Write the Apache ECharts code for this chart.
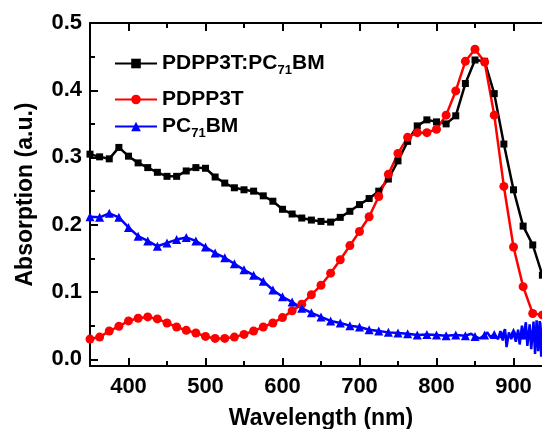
<!DOCTYPE html>
<html>
<head>
<meta charset="utf-8">
<script src="https://cdn.jsdelivr.net/npm/echarts@6/dist/echarts.min.js"></script>
<style>
  html, body { margin: 0; padding: 0; background: #fff; }
  #chart { width: 542px; height: 429px; }
</style>
</head>
<body>
<div id="chart"></div>
<script>
// wavelength grid of the markers (nm)
const wavelength = [350, 362.5, 375, 387.5, 400, 412.5, 425, 437.5, 450, 462.5, 475, 487.5,
  500, 512.5, 525, 537.5, 550, 562.5, 575, 587.5, 600, 612.5, 625, 637.5, 650, 662.5, 675, 687.5,
  700, 712.5, 725, 737.5, 750, 762.5, 775, 787.5, 800, 812.5, 825, 837.5, 850, 862.5, 875, 887.5,
  900, 912.5, 925, 937.5];

// PDPP3T:PC71BM blend
const blendAbs = [0.305, 0.301, 0.298, 0.315, 0.302, 0.292, 0.285, 0.278, 0.272, 0.272, 0.280, 0.285,
  0.284, 0.271, 0.262, 0.255, 0.252, 0.250, 0.243, 0.235, 0.223, 0.216, 0.210, 0.207, 0.205, 0.204, 0.211, 0.220,
  0.230, 0.239, 0.250, 0.268, 0.295, 0.324, 0.347, 0.356, 0.353, 0.350, 0.362, 0.410, 0.445, 0.443, 0.395, 0.320,
  0.252, 0.198, 0.170, 0.125];

// PDPP3T
const polymerAbs = [0.030, 0.033, 0.042, 0.049, 0.057, 0.061, 0.063, 0.060, 0.054, 0.048, 0.043, 0.039,
  0.034, 0.031, 0.031, 0.033, 0.037, 0.042, 0.048, 0.054, 0.062, 0.072, 0.082, 0.096, 0.110, 0.128, 0.148, 0.169,
  0.190, 0.212, 0.242, 0.275, 0.306, 0.330, 0.337, 0.337, 0.342, 0.363, 0.399, 0.443, 0.461, 0.442, 0.363, 0.257,
  0.167, 0.108, 0.068, 0.066];

// PC71BM
const pcbmAbs = [0.212, 0.211, 0.217, 0.211, 0.196, 0.183, 0.176, 0.168, 0.173, 0.178, 0.181, 0.176,
  0.167, 0.158, 0.151, 0.142, 0.133, 0.125, 0.116, 0.103, 0.093, 0.085, 0.076, 0.069, 0.063, 0.057, 0.054, 0.050,
  0.048, 0.044, 0.042, 0.040, 0.039, 0.038, 0.036, 0.037, 0.036, 0.035, 0.036, 0.035, 0.034, 0.036, 0.037, 0.038,
  0.040, 0.036, 0.040, 0.035];

// noisy tail of PC71BM between markers (no symbol)
const pcbmTailWl = [845, 856, 866, 870, 880, 883, 886, 889, 891, 894, 897, 903, 906, 908, 911, 913, 916, 918,
  921, 923, 926, 928, 930, 932, 934, 936, 938, 940];
const pcbmTailAbs = [0.038, 0.031, 0.040, 0.033, 0.030, 0.042, 0.028, 0.045, 0.018, 0.040, 0.030, 0.026, 0.044, 0.022,
  0.050, 0.030, 0.055, 0.020, 0.052, 0.015, 0.056, 0.008, 0.058, 0.012, 0.057, 0.004, 0.055, 0.010];

// tick positions
const xMajorTicks = [400, 500, 600, 700, 800, 900];
const xMinorTicks = [450, 550, 650, 750, 850];
const yMajorTicks = [0, 0.1, 0.2, 0.3, 0.4];
const yMinorTicks = [0.05, 0.15, 0.25, 0.35, 0.45];

const seriesNames = ['PDPP3T:PC71BM', 'PDPP3T', 'PC71BM'];

const X_MIN = 350, X_MAX = 950, Y_MIN = -0.01, Y_MAX = 0.5;
// data units per pixel of the main grid (462 x 343 px)
const NM_PER_PX = (X_MAX - X_MIN) / 462;
const ABS_PER_PX = (Y_MAX - Y_MIN) / 343;

function pairs(xs, ys) {
  return xs.map((x, i) => [x, ys[i]]);
}
const pcbmData = pairs(wavelength, pcbmAbs)
  .concat(pcbmTailWl.map((x, i) => ({ value: [x, pcbmTailAbs[i]], symbol: 'none' })))
  .sort((a, b) => (a.value || a)[0] - (b.value || b)[0]);

// inward tick marks as mark lines, in data coordinates
function tickLines(values, dir, lenPx) {
  const out = [];
  values.forEach(v => {
    if (dir === 'x') {
      const d = lenPx * ABS_PER_PX;
      out.push([{ coord: [v, Y_MIN] }, { coord: [v, Y_MIN + d] }]);
      out.push([{ coord: [v, Y_MAX] }, { coord: [v, Y_MAX - d] }]);
    } else {
      out.push([{ coord: [X_MIN, v] }, { coord: [X_MIN + lenPx * NM_PER_PX, v] }]);
    }
  });
  return out;
}
const tickData = [].concat(
  tickLines(xMajorTicks, 'x', 8), tickLines(xMinorTicks, 'x', 5),
  tickLines(yMajorTicks, 'y', 8), tickLines(yMinorTicks, 'y', 5));

const FONT = 'Liberation Sans, Arial, sans-serif';
const chart = echarts.init(document.getElementById('chart'));

const hidden = () => ({ show: false });
const frameLine = () => ({ show: true, onZero: false, lineStyle: { color: '#000', width: 2 } });
const labelStyle = () => ({ fontFamily: FONT, fontWeight: 'bold', fontSize: 22, color: '#000' });

function legendFor(i, top) {
  return {
    data: [seriesNames[i]],
    left: 114,
    top: top,
    padding: 0,
    itemWidth: 42,
    itemHeight: 12,
    textStyle: {
      fontFamily: FONT, fontWeight: 'bold', fontSize: 21, color: '#000',
      rich: {
        sub: { fontFamily: FONT, fontWeight: 'bold', fontSize: 13, color: '#000', verticalAlign: 'bottom', lineHeight: 26 }
      }
    },
    formatter: name => name.replace(/71/, '{sub|71}')
  };
}

chart.setOption({
  animation: false,
  backgroundColor: '#fff',
  grid: [
    { left: 90, right: -10, top: 23, bottom: 63, outerBoundsMode: 'none' },     // data area
    { left: 128.5, right: 28.5, top: 23, bottom: 63, outerBoundsMode: 'none' }, // x labels 400..900
    { left: 90, right: -10, top: 23, bottom: 70, outerBoundsMode: 'none' }      // y labels 0..0.5
  ],
  xAxis: [
    {
      gridIndex: 0, type: 'value', position: 'bottom', min: X_MIN, max: X_MAX,
      axisLine: frameLine(), axisTick: hidden(), axisLabel: hidden(), splitLine: hidden(),
      name: 'Wavelength (nm)', nameLocation: 'middle', nameGap: 41,
      nameTextStyle: { fontFamily: FONT, fontWeight: 'bold', fontSize: 23, color: '#000' }
    },
    {
      gridIndex: 0, type: 'value', position: 'top', min: X_MIN, max: X_MAX,
      axisLine: frameLine(), axisTick: hidden(), axisLabel: hidden(), splitLine: hidden()
    },
    {
      gridIndex: 1, type: 'value', position: 'bottom', min: 400, max: 900, interval: 100,
      axisLine: hidden(), axisTick: hidden(), splitLine: hidden(),
      axisLabel: Object.assign({ margin: 10 }, labelStyle())
    },
    { gridIndex: 2, type: 'value', min: 0, max: 1, show: false }
  ],
  yAxis: [
    {
      gridIndex: 0, type: 'value', position: 'left', min: Y_MIN, max: Y_MAX,
      axisLine: frameLine(), axisTick: hidden(), axisLabel: hidden(), splitLine: hidden(),
      name: 'Absorption (a.u.)', nameLocation: 'middle', nameGap: 53,
      nameTextStyle: { fontFamily: FONT, fontWeight: 'bold', fontSize: 23, color: '#000' }
    },
    { gridIndex: 1, type: 'value', min: 0, max: 1, show: false },
    {
      gridIndex: 2, type: 'value', position: 'left', min: 0, max: 0.5, interval: 0.1,
      axisLine: hidden(), axisTick: hidden(), splitLine: hidden(),
      axisLabel: Object.assign({ margin: 8, formatter: v => v.toFixed(1) }, labelStyle())
    }
  ],
  legend: [legendFor(0, 53), legendFor(1, 89), legendFor(2, 116)],
  series: [
    {
      name: seriesNames[0], type: 'line', xAxisIndex: 0, yAxisIndex: 0,
      data: pairs(wavelength, blendAbs),
      symbol: 'rect', symbolSize: 7, showAllSymbol: true,
      lineStyle: { color: '#000', width: 2.5 }, itemStyle: { color: '#000' },
      markLine: {
        silent: true, animation: false, symbol: ['none', 'none'],
        label: { show: false }, emphasis: { disabled: true },
        lineStyle: { color: '#000', width: 2, type: 'solid' },
        data: tickData
      }
    },
    {
      name: seriesNames[1], type: 'line', xAxisIndex: 0, yAxisIndex: 0,
      data: pairs(wavelength, polymerAbs),
      symbol: 'circle', symbolSize: 9, showAllSymbol: true,
      lineStyle: { color: '#ff0000', width: 2.5 }, itemStyle: { color: '#ff0000' }
    },
    {
      name: seriesNames[2], type: 'line', xAxisIndex: 0, yAxisIndex: 0,
      data: pcbmData,
      symbol: 'triangle', symbolSize: 9, showAllSymbol: true,
      lineStyle: { color: '#0000ff', width: 2.5 }, itemStyle: { color: '#0000ff' }
    }
  ]
});
</script>
</body>
</html>
